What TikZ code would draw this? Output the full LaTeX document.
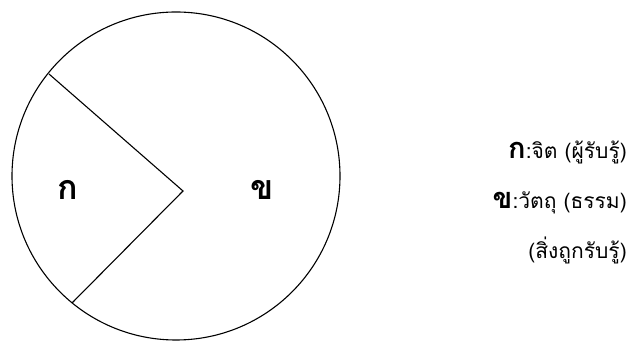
\documentclass[tikz,border=0pt]{standalone}
\usepackage{fontspec}
\newfontfamily\thaifont[Script=Thai]{Loma}
\begin{document}
\begin{tikzpicture}[x=1pt,y=-1pt,
  lbl/.style={font=\thaifont\bfseries\fontsize{34}{38}\selectfont, inner sep=0pt},
  legend/.style={font=\thaifont\fontsize{21}{25}\selectfont, anchor=east, inner sep=0pt},
  edge/.style={line width=1.1pt}]
\useasboundingbox (0,0) rectangle (641,344);
\coordinate (c) at (176,176);
\draw[edge] (c) circle (164);
\coordinate (v) at (183,191);
\coordinate (p1) at (49,74);
\coordinate (p2) at (72,303);
\draw[edge] (p1) -- (v) -- (p2);
\node[lbl] (ka) at (68,190) {ก};
\node[lbl] (kho) at (262,190) {ข};
\node[legend] (l1) at (627,152) {{\bfseries\fontsize{29}{33}\selectfont ก}:จิต (ผู้รับรู้)};
\node[legend] (l2) at (627,203) {{\bfseries\fontsize{29}{33}\selectfont ข}:วัตถุ (ธรรม)};
\node[legend] (l3) at (627,250) {(สิ่งถูกรับรู้)};
\end{tikzpicture}
\end{document}
